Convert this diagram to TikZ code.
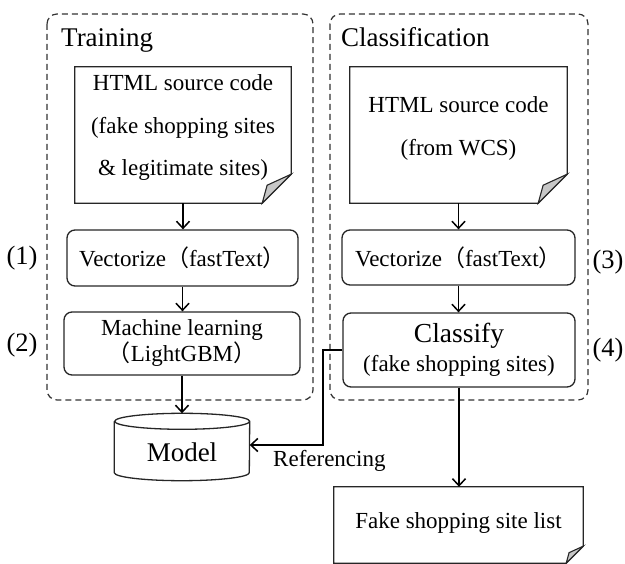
\documentclass[tikz,border=0pt]{standalone}
\usepackage{fontspec}
\setmainfont{Liberation Serif}
\newfontfamily\cjk{Noto Sans CJK JP}
\usetikzlibrary{arrows.meta}

\newcommand\setfs[2]{\fontsize{#1}{#2}\selectfont}
\newcommand\wlp{{\cjk （}}
\newcommand\wrp{{\cjk ）}}

% page-like document outline with a folded lower-right corner
\newcommand\docoutline[2]{%
  \draw[docline] (#1.north west) -- (#1.north east) -- ([yshift=#2]#1.south east)
    -- ([xshift=-#2]#1.south east) -- (#1.south west) -- cycle;
  \filldraw[fold] ([yshift=#2]#1.south east)
    -- ([xshift=-0.83*#2, yshift=0.62*#2]#1.south east)
    -- ([xshift=-#2]#1.south east) -- cycle;}

\tikzset{
  frame/.style={draw=black!80, dash pattern=on 6pt off 4pt, line width=1.2pt, rounded corners=10pt},
  grouptitle/.style={anchor=base west, inner sep=0pt, font=\setfs{27}{32}},
  docshape/.style={draw=none, inner sep=0pt},
  docline/.style={draw=black!85, line width=1.3pt},
  fold/.style={draw=black!85, line width=1.1pt, fill=black!22},
  doctext/.style={align=center, inner sep=0pt, font=\setfs{23}{42.5}},
  procbox/.style={draw=black!85, line width=1.3pt, rounded corners=8pt, align=center,
    inner sep=0pt, font=\setfs{23}{26}},
  steplabel/.style={inner sep=0pt, font=\setfs{26.5}{30}},
  conn/.style={draw=black, line width=1.5pt, -{Straight Barb[length=7pt,width=13pt]}},
  plain/.style={inner sep=0pt, font=\setfs{23}{28}},
}

\begin{document}
\begin{tikzpicture}[x=1pt,y=-1pt]
\useasboundingbox (0,0) rectangle (625,564);

% group frames
\draw[frame] (47,14) rectangle (313,400);
\draw[frame] (330,14) rectangle (588,400);
\node[grouptitle] (ttrain) at (61,47) {Training};
\node[grouptitle] (tclass) at (341,47) {Classification};

% training column
\node[docshape, minimum width=216pt, minimum height=136pt] (doc1) at (183,135) {};
\docoutline{doc1}{29pt}
\node[doctext] (doc1txt) at (183,128) {HTML source code\\(fake shopping sites\\\& legitimate sites)};
\node[procbox, minimum width=231pt, minimum height=56pt] (vec1) at (182.5,258)
  {Vectorize\wlp fastText\wrp};
\node[procbox, minimum width=236pt, minimum height=63pt] (ml) at (182,343.5)
  {Machine learning\\\wlp LightGBM\wrp};

% model store
\node[docshape, minimum width=135pt, minimum height=51pt] (model) at (182,447) {};
\draw[docline] (model.north west) -- (model.south west)
  arc[start angle=180, end angle=360, x radius=67.5pt, y radius=8pt]
  -- (model.north east)
  arc[start angle=0, end angle=360, x radius=67.5pt, y radius=8pt];
\node[inner sep=0pt, font=\setfs{27}{32}] (modeltxt) at (182,452) {Model};
\coordinate (modeltop) at ([yshift=8pt]model.north);

% classification column
\node[docshape, minimum width=217pt, minimum height=136pt] (doc2) at (458.5,135) {};
\docoutline{doc2}{29pt}
\node[doctext] (doc2txt) at (458.5,128.5) {HTML source code\\(from WCS)};
\node[procbox, minimum width=233pt, minimum height=55pt] (vec2) at (458.5,257.5)
  {Vectorize\wlp fastText\wrp};
\node[procbox, minimum width=232pt, minimum height=74pt, font=\setfs{23}{28.5}] (cls) at (459,350)
  {{\setfs{27.5}{28.5}Classify}\\(fake shopping sites)};

\node[docshape, minimum width=249pt, minimum height=76pt] (list) at (458.5,525) {};
\docoutline{list}{17pt}
\node[plain] (listtxt) at (458.5,523) {Fake shopping site list};

% step numbers
\node[steplabel] (s1) at (22,258) {(1)};
\node[steplabel] (s2) at (22,345) {(2)};
\node[steplabel] (s3) at (608,262) {(3)};
\node[steplabel] (s4) at (608,350) {(4)};

% flow
\draw[conn] (doc1.south) -- (doc1.south |- vec1.north);
\draw[conn] (vec1.south) -- (vec1.south |- ml.north);
\draw[conn] (ml.south) -- (ml.south |- modeltop);
\draw[conn] (doc2.south) -- (doc2.south |- vec2.north);
\draw[conn] (vec2.south) -- (vec2.south |- cls.north);
\draw[conn] (cls.south) -- (cls.south |- list.north);

\coordinate (bend) at (323,445);
\draw[conn] (cls.west) -| (bend) -- (bend -| model.east);
\node[plain, anchor=base west] (reflbl) at (273,467) {Referencing};
\end{tikzpicture}
\end{document}
